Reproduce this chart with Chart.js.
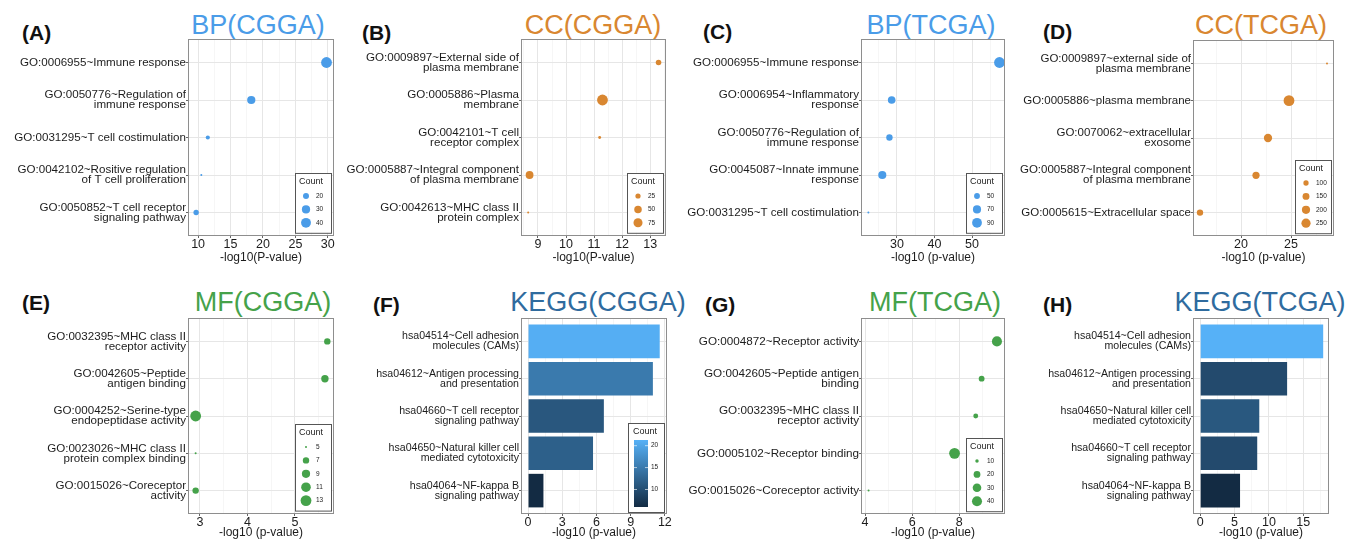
<!DOCTYPE html>
<html><head><meta charset="utf-8">
<script src="https://cdn.jsdelivr.net/npm/chart.js@4.4.1/dist/chart.umd.min.js"></script>
<style>
html,body{margin:0;padding:0;background:#fff}
body{position:relative;width:1357px;height:542px;overflow:hidden;font-family:'Liberation Sans',Arial,sans-serif}
canvas{position:absolute}
.tag{position:absolute;font-weight:bold;font-size:21px;line-height:20px;color:#111;white-space:nowrap}
.ttl{position:absolute;font-size:27px;line-height:28px;white-space:nowrap;transform:translateX(-50%)}
</style></head><body>
<div class="tag" style="left:22px;top:23px">(A)</div>
<div class="tag" style="left:362px;top:23px">(B)</div>
<div class="tag" style="left:703px;top:22px">(C)</div>
<div class="tag" style="left:1043px;top:22px">(D)</div>
<div class="tag" style="left:22px;top:293px">(E)</div>
<div class="tag" style="left:373px;top:295px">(F)</div>
<div class="tag" style="left:705px;top:295px">(G)</div>
<div class="tag" style="left:1043px;top:295px">(H)</div>
<div class="ttl" style="left:258px;top:11px;color:#4A9CE8">BP(CGGA)</div>
<div class="ttl" style="left:593px;top:11px;color:#D98731">CC(CGGA)</div>
<div class="ttl" style="left:931px;top:11px;color:#4A9CE8">BP(TCGA)</div>
<div class="ttl" style="left:1261px;top:11px;color:#D98731">CC(TCGA)</div>
<div class="ttl" style="left:263px;top:288px;color:#45A24A">MF(CGGA)</div>
<div class="ttl" style="left:598px;top:288px;color:#2F6B9E">KEGG(CGGA)</div>
<div class="ttl" style="left:935px;top:288px;color:#45A24A">MF(TCGA)</div>
<div class="ttl" style="left:1260px;top:288px;color:#2F6B9E">KEGG(TCGA)</div>
<script>
// ---------- DATA ----------
// (A) BP(CGGA)
const bpCggaTerms = [["GO:0006955~Immune response"], ["GO:0050776~Regulation of", "immune response"], ["GO:0031295~T cell costimulation"], ["GO:0042102~Rositive regulation", "of T cell proliferation"], ["GO:0050852~T cell receptor", "signaling pathway"]];
const bpCggaLogP = [29.8, 18.2, 11.5, 10.5, 9.7];
const bpCggaCount = [47, 30, 15, 13, 18];
const bpCggaTicks = [10, 15, 20, 25, 30];
const bpCggaKey = [20, 30, 40];

// (B) CC(CGGA)
const ccCggaTerms = [["GO:0009897~External side of", "plasma membrane"], ["GO:0005886~Plasma", "membrane"], ["GO:0042101~T cell", "receptor complex"], ["GO:0005887~Integral component", "of plasma membrane"], ["GO:0042613~MHC class II", "protein complex"]];
const ccCggaLogP = [13.3, 11.3, 11.2, 8.7, 8.65];
const ccCggaCount = [28, 110, 13, 55, 12];
const ccCggaTicks = [9, 10, 11, 12, 13];
const ccCggaKey = [25, 50, 75];

// (C) BP(TCGA)
const bpTcgaTerms = [["GO:0006955~Immune response"], ["GO:0006954~Inflammatory", "response"], ["GO:0050776~Regulation of", "immune response"], ["GO:0045087~Innate immune", "response"], ["GO:0031295~T cell costimulation"]];
const bpTcgaLogP = [57.3, 28.6, 28.0, 26.1, 22.4];
const bpTcgaCount = [105, 65, 54, 70, 37];
const bpTcgaTicks = [30, 40, 50];
const bpTcgaKey = [50, 70, 90];

// (D) CC(TCGA)
const ccTcgaTerms = [["GO:0009897~external side of", "plasma membrane"], ["GO:0005886~plasma membrane"], ["GO:0070062~extracellular", "exosome"], ["GO:0005887~Integral component", "of plasma membrane"], ["GO:0005615~Extracellular space"]];
const ccTcgaLogP = [28.6, 24.8, 22.7, 21.5, 15.9];
const ccTcgaCount = [60, 345, 205, 160, 130];
const ccTcgaTicks = [20, 25];
const ccTcgaKey = [100, 150, 200, 250];

// (E) MF(CGGA)
const mfCggaTerms = [["GO:0032395~MHC class II", "receptor activity"], ["GO:0042605~Peptide", "antigen binding"], ["GO:0004252~Serine-type", "endopeptidase activity"], ["GO:0023026~MHC class II", "protein complex binding"], ["GO:0015026~Coreceptor", "activity"]];
const mfCggaLogP = [5.68, 5.63, 2.91, 2.91, 2.91];
const mfCggaCount = [7, 8, 13, 5, 7];
const mfCggaTicks = [3, 4, 5];
const mfCggaKey = [5, 7, 9, 11, 13];

// (F) KEGG(CGGA)
const keggCggaTerms = [["hsa04514~Cell adhesion", "molecules (CAMs)"], ["hsa04612~Antigen processing", "and presentation"], ["hsa04660~T cell receptor", "signaling pathway"], ["hsa04650~Natural killer cell", "mediated cytotoxicity"], ["hsa04064~NF-kappa B", "signaling pathway"]];
const keggCggaLogP = [11.55, 10.95, 6.65, 5.7, 1.35];
const keggCggaCount = [21, 15, 11, 12, 6];
const keggCggaTicks = [0, 3, 6, 9, 12];
const keggCggaKey = [10, 15, 20];

// (G) MF(TCGA)
const mfTcgaTerms = [["GO:0004872~Receptor activity"], ["GO:0042605~Peptide antigen", "binding"], ["GO:0032395~MHC class II", "receptor activity"], ["GO:0005102~Receptor binding"], ["GO:0015026~Coreceptor activity"]];
const mfTcgaLogP = [9.6, 8.95, 8.7, 7.8, 4.15];
const mfTcgaCount = [40, 16, 13, 46, 9];
const mfTcgaTicks = [4, 6, 8];
const mfTcgaKey = [10, 20, 30, 40];

// (H) KEGG(TCGA)
const keggTcgaTerms = [["hsa04514~Cell adhesion", "molecules (CAMs)"], ["hsa04612~Antigen processing", "and presentation"], ["hsa04650~Natural killer cell", "mediated cytotoxicity"], ["hsa04660~T cell receptor", "signaling pathway"], ["hsa04064~NF-kappa B", "signaling pathway"]];
const keggTcgaLogP = [17.9, 12.65, 8.6, 8.3, 5.8];
const keggTcgaCount = [40, 17, 20, 17, 10];
const keggTcgaTicks = [0, 5, 10, 15];

// ---------- STYLE ----------
const BLUE = '#4A9CE8', ORANGE = '#D98731', GREEN = '#45A24A';
const LOW = [19, 43, 67], HIGH = [86, 177, 247];
const R_MIN = 1, R_MAX = 5.4;
const TXT = '#1c1c1c';
Chart.defaults.font.family = "'Liberation Sans', Arial, Helvetica, sans-serif";
Chart.defaults.color = TXT;

function sizeOf(c, lo, hi) { return R_MIN + (R_MAX - R_MIN) * Math.sqrt(Math.max(0, (c - lo) / (hi - lo))); }
function fillOf(c, lo, hi) {
  const t = Math.min(1, Math.max(0, (c - lo) / (hi - lo)));
  const m = LOW.map((l, k) => Math.round(l + (HIGH[k] - l) * t));
  return `rgb(${m[0]},${m[1]},${m[2]})`;
}

const frame = {
  id: 'frame',
  afterDatasetsDraw(chart) {
    const {ctx, chartArea: a} = chart;
    ctx.save();
    ctx.strokeStyle = '#8E8E8E'; ctx.lineWidth = 1;
    ctx.strokeRect(a.left - 0.5, a.top - 0.5, a.right - a.left + 1, a.bottom - a.top + 1);
    ctx.restore();
  }
};

function bubbleKey(breaks, lo, hi, color) {
  return {
    id: 'bubbleKey',
    afterDatasetsDraw(chart) {
      const {ctx, chartArea: a} = chart;
      const n = breaks.length, w = 36, h = 33 + (n - 1) * 13.4;
      const left = Math.round(a.right - 2 - w), top = Math.round(a.bottom - 2 - h);
      ctx.save();
      ctx.fillStyle = '#fff'; ctx.fillRect(left, top, w, h);
      ctx.strokeStyle = '#555'; ctx.lineWidth = 1; ctx.strokeRect(left + 0.5, top + 0.5, w, h);
      ctx.fillStyle = TXT; ctx.textBaseline = 'middle'; ctx.textAlign = 'left';
      ctx.font = "9px 'Liberation Sans', Arial, sans-serif";
      ctx.fillText('Count', left + 4, top + 9);
      ctx.font = "6.5px 'Liberation Sans', Arial, sans-serif";
      breaks.forEach((b, i) => {
        const y = top + 23 + i * 13.4;
        ctx.beginPath(); ctx.arc(left + 11, y, sizeOf(b, lo, hi), 0, Math.PI * 2);
        ctx.fillStyle = color; ctx.fill();
        ctx.fillStyle = TXT; ctx.fillText(String(b), left + 21, y);
      });
      ctx.restore();
    }
  };
}

function barKey(breaks, lo, hi) {
  return {
    id: 'barKey',
    afterDatasetsDraw(chart) {
      const {ctx, chartArea: a} = chart;
      const w = 36, h = 89;
      const left = Math.round(a.right - 2 - w), top = Math.round(a.bottom - 1 - h);
      const bx = left + 6, bw = 14, by = top + 17, bh = 67;
      ctx.save();
      ctx.fillStyle = '#fff'; ctx.fillRect(left, top, w, h);
      ctx.strokeStyle = '#555'; ctx.lineWidth = 1; ctx.strokeRect(left + 0.5, top + 0.5, w, h);
      ctx.fillStyle = TXT; ctx.textBaseline = 'middle'; ctx.textAlign = 'left';
      ctx.font = "9px 'Liberation Sans', Arial, sans-serif";
      ctx.fillText('Count', left + 5, top + 9);
      const g = ctx.createLinearGradient(0, by + bh, 0, by);
      g.addColorStop(0, fillOf(lo, lo, hi)); g.addColorStop(1, fillOf(hi, lo, hi));
      ctx.fillStyle = g; ctx.fillRect(bx, by, bw, bh);
      ctx.font = "6.5px 'Liberation Sans', Arial, sans-serif";
      breaks.forEach(b => {
        const y = by + bh - (b - lo) / (hi - lo) * bh;
        ctx.strokeStyle = 'rgba(255,255,255,0.8)'; ctx.lineWidth = 0.8;
        ctx.beginPath(); ctx.moveTo(bx, y); ctx.lineTo(bx + 3, y); ctx.moveTo(bx + bw - 3, y); ctx.lineTo(bx + bw, y); ctx.stroke();
        ctx.fillStyle = TXT; ctx.fillText(String(b), bx + bw + 3, y);
      });
      ctx.restore();
    }
  };
}

// geometry: canvas [left, top, width, height], plot [left, top, right, bottom] in page pixels
const panels = [
  {kind: 'dot', terms: bpCggaTerms, values: bpCggaLogP, counts: bpCggaCount, ticks: bpCggaTicks, key: bpCggaKey, color: BLUE, xTitle: '-log10(P-value)', xMin: 8.6, xMax: 30.8, canvas: [0, 0, 360, 270], plot: [189, 40, 333, 235], padB: 3, tPad: 2.5, fs: 11.6},
  {kind: 'dot', terms: ccCggaTerms, values: ccCggaLogP, counts: ccCggaCount, ticks: ccCggaTicks, key: ccCggaKey, color: ORANGE, xTitle: '-log10(P-value)', xMin: 8.43, xMax: 13.53, canvas: [330, 0, 370, 270], plot: [522, 40, 665, 235], padB: 3, tPad: 2.5, fs: 11.6},
  {kind: 'dot', terms: bpTcgaTerms, values: bpTcgaLogP, counts: bpTcgaCount, ticks: bpTcgaTicks, key: bpTcgaKey, color: BLUE, xTitle: '-log10 (p-value)', xMin: 20.7, xMax: 58.5, canvas: [670, 0, 360, 270], plot: [862, 40, 1004, 235], padB: 3, tPad: 2.5, fs: 11.6},
  {kind: 'dot', terms: ccTcgaTerms, values: ccTcgaLogP, counts: ccTcgaCount, ticks: ccTcgaTicks, key: ccTcgaKey, color: ORANGE, xTitle: '-log10 (p-value)', xMin: 15.3, xMax: 29.2, canvas: [1000, 0, 357, 270], plot: [1194, 41, 1333, 235], padB: 3, tPad: 2.5, fs: 11.5},
  {kind: 'dot', terms: mfCggaTerms, values: mfCggaLogP, counts: mfCggaCount, ticks: mfCggaTicks, key: mfCggaKey, color: GREEN, xTitle: '-log10 (p-value)', xMin: 2.77, xMax: 5.8, canvas: [0, 270, 360, 272], plot: [189, 319, 333, 513], padB: 2, tPad: 0, fs: 11.6},
  {kind: 'bar', terms: keggCggaTerms, values: keggCggaLogP, counts: keggCggaCount, ticks: keggCggaTicks, key: keggCggaKey, xTitle: '-log10 (p-value)', xMin: -0.53, xMax: 12.1, canvas: [330, 270, 370, 272], plot: [522, 319, 666, 513], padB: 2, tPad: 0, fs: 10.6, colorLimits: [6, 21.3]},
  {kind: 'dot', terms: mfTcgaTerms, values: mfTcgaLogP, counts: mfTcgaCount, ticks: mfTcgaTicks, key: mfTcgaKey, color: GREEN, xTitle: '-log10 (p-value)', xMin: 3.87, xMax: 9.9, canvas: [670, 270, 360, 272], plot: [862, 319, 1004, 513], padB: 2, tPad: 0, fs: 11.7},
  {kind: 'bar', terms: keggTcgaTerms, values: keggTcgaLogP, counts: keggTcgaCount, ticks: keggTcgaTicks, key: null, xTitle: '-log10 (p-value)', xMin: -0.9, xMax: 18.6, canvas: [1000, 270, 357, 272], plot: [1194, 319, 1328, 513], padB: 2, tPad: 0, fs: 10.6}
];

function build(p) {
  const [cl, ct, cw, ch] = p.canvas;
  const [pl, pt, pr, pb] = p.plot;
  const cv = document.createElement('canvas');
  cv.width = cw; cv.height = ch;
  cv.style.left = cl + 'px'; cv.style.top = ct + 'px';
  cv.style.width = cw + 'px'; cv.style.height = ch + 'px';
  document.body.appendChild(cv);

  const yW = pl - cl;
  const xH = ch - (pb - ct) - p.padB;
  const n = p.terms.length;
  const rows = p.terms.map((_, i) => i + 1);
  const step = p.ticks[1] - p.ticks[0];
  const minors = [];
  for (let k = 0; ; k++) {
    const v = p.ticks[0] - step / 2 + k * step;
    if (v > p.xMax + 1e-9) break;
    if (v >= p.xMin) minors.push(+v.toFixed(6));
  }
  const allTicks = p.ticks.concat(minors).sort((a, b) => a - b);
  const isMajor = v => p.ticks.some(t => Math.abs(t - v) < 1e-6);
  const major = c => !!(c && c.tick && isMajor(c.tick.value));

  const lo = Math.min(...p.counts), hi = Math.max(...p.counts);
  let dataset, type, plugins = [frame];
  if (p.kind === 'dot') {
    type = 'scatter';
    dataset = {
      data: p.values.map((v, i) => ({x: v, y: i + 1})),
      pointRadius: p.counts.map(c => sizeOf(c, lo, hi)),
      pointHoverRadius: p.counts.map(c => sizeOf(c, lo, hi)),
      pointBackgroundColor: p.color, pointBorderWidth: 0, borderWidth: 0,
      clip: false
    };
    plugins.push(bubbleKey(p.key, lo, hi, p.color));
  } else {
    type = 'bar';
    const lim = p.colorLimits || [lo, hi];
    dataset = {
      data: p.values.map((v, i) => ({x: v, y: i + 1})),
      backgroundColor: p.counts.map(c => fillOf(c, lim[0], lim[1])),
      borderWidth: 0, barPercentage: 0.9, categoryPercentage: 1
    };
    if (p.key) plugins.push(barKey(p.key, lim[0], lim[1]));
  }

  new Chart(cv, {
    type,
    data: {datasets: [dataset]},
    plugins,
    options: {
      indexAxis: p.kind === 'bar' ? 'y' : 'x',
      responsive: false, animation: false, events: [],
      layout: {padding: {left: 0, top: pt - ct, right: cl + cw - pr, bottom: p.padB}},
      plugins: {legend: {display: false}, tooltip: {enabled: false}, title: {display: false}},
      scales: {
        x: {
          type: 'linear', min: p.xMin, max: p.xMax, offset: false,
          afterBuildTicks: s => { s.ticks = allTicks.map(v => ({value: v})); },
          afterFit: s => { s.height = xH; },
          ticks: {autoSkip: false, maxRotation: 0, minRotation: 0, padding: 0, color: TXT,
            font: {size: 12.5, lineHeight: 1}, callback: v => isMajor(v) ? String(v) : ''},
          grid: {offset: false, drawTicks: true, tickLength: 3,
            color: c => major(c) ? '#E6E6E6' : '#F2F2F2',
            lineWidth: c => major(c) ? 1 : 0.7,
            tickColor: c => major(c) ? '#666' : 'rgba(0,0,0,0)'},
          border: {display: false},
          title: {display: true, text: p.xTitle, color: TXT, font: {size: 12, lineHeight: 1.2}, padding: {top: 0, bottom: p.tPad}}
        },
        y: {
          type: 'linear', reverse: true, min: 0.4, max: n + 0.6, offset: false,
          afterBuildTicks: s => { s.ticks = rows.map(v => ({value: v})); },
          afterFit: s => { s.width = yW; },
          ticks: {autoSkip: false, padding: 0, color: TXT,
            font: {size: p.fs, lineHeight: 10 / p.fs}, callback: v => p.terms[Math.round(v) - 1]},
          grid: {offset: false, color: '#E6E6E6', lineWidth: 1, drawTicks: true, tickLength: 3, tickColor: '#666'},
          border: {display: false}
        }
      }
    }
  });
}

panels.forEach(build);
</script>
</body></html>
